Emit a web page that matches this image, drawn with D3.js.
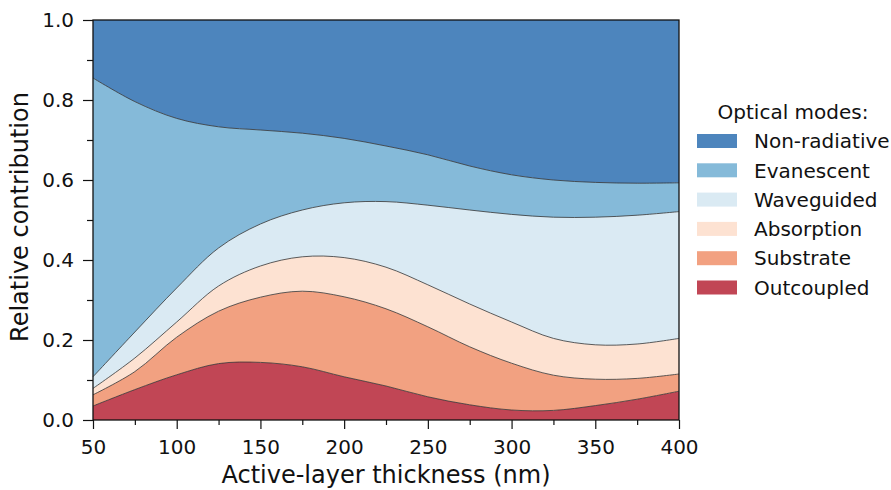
<!DOCTYPE html>
<html>
<head>
<meta charset="utf-8">
<script src="https://cdn.jsdelivr.net/npm/d3@7"></script>
<style>
  body { margin: 0; background: #fff; }
  svg text { font-family: "DejaVu Sans", Verdana, sans-serif; fill: #111; }
</style>
</head>
<body>
<div id="chart"></div>
<script>
// thickness in nm
const thickness = [50, 75, 100, 125, 150, 175, 200, 225, 250, 275, 300, 325, 350, 375, 400];

// contribution of each optical mode (stacked bottom -> top)
const outcoupled   = [0.035, 0.076, 0.113, 0.141, 0.144, 0.133, 0.108, 0.085, 0.058, 0.038, 0.025, 0.024, 0.036, 0.052, 0.072];
const substrate    = [0.028, 0.045, 0.094, 0.131, 0.163, 0.189, 0.200, 0.193, 0.175, 0.145, 0.117, 0.088, 0.066, 0.052, 0.043];
const absorption   = [0.016, 0.034, 0.038, 0.063, 0.078, 0.086, 0.098, 0.104, 0.105, 0.107, 0.103, 0.092, 0.086, 0.086, 0.089];
const waveguided   = [0.029, 0.065, 0.085, 0.095, 0.105, 0.117, 0.137, 0.164, 0.199, 0.235, 0.269, 0.303, 0.319, 0.322, 0.317];
const evanescent   = [0.747, 0.576, 0.424, 0.303, 0.235, 0.192, 0.161, 0.139, 0.126, 0.110, 0.099, 0.093, 0.087, 0.080, 0.072];
const nonRadiative = [0.145, 0.204, 0.246, 0.267, 0.275, 0.283, 0.296, 0.315, 0.337, 0.365, 0.387, 0.400, 0.406, 0.408, 0.407];

const modes = ["Outcoupled", "Substrate", "Absorption", "Waveguided", "Evanescent", "Non-radiative"];
const modeColors = ["#b2182b", "#ef8a62", "#fddbc7", "#d1e5f0", "#67a9cf", "#2166ac"];
const xTicks = [50, 100, 150, 200, 250, 300, 350, 400];
const yTicks = [0, 0.2, 0.4, 0.6, 0.8, 1.0];

const series = [outcoupled, substrate, absorption, waveguided, evanescent, nonRadiative];

// build rows for d3.stack
const rows = thickness.map((t, i) => {
    const r = { t };
    modes.forEach((m, k) => r[m] = series[k][i]);
    return r;
});

const W = 891, H = 490;
const margin = { top: 20, right: 212, bottom: 70, left: 93 };
const width = W - margin.left - margin.right;
const height = H - margin.top - margin.bottom;

const svg = d3.select("#chart").append("svg")
    .attr("width", W)
    .attr("height", H);

const g = svg.append("g")
    .attr("transform", `translate(${margin.left},${margin.top})`);

const x = d3.scaleLinear().domain([50, 400]).range([0, width]);
const y = d3.scaleLinear().domain([0, 1]).range([height, 0]);

const stacked = d3.stack().keys(modes)(rows);

const area = d3.area()
    .x(d => x(d.data.t))
    .y0(d => y(d[0]))
    .y1(d => y(d[1]))
    .curve(d3.curveCatmullRom);

const topLine = d3.line()
    .x(d => x(d.data.t))
    .y(d => y(d[1]))
    .curve(d3.curveCatmullRom);

g.selectAll("path.layer")
    .data(stacked)
    .join("path")
    .attr("class", "layer")
    .attr("d", area)
    .attr("fill", (d, i) => modeColors[i])
    .attr("fill-opacity", 0.8);

// thin edges between layers
g.selectAll("path.edge")
    .data(stacked.slice(0, stacked.length - 1))
    .join("path")
    .attr("class", "edge")
    .attr("d", topLine)
    .attr("fill", "none")
    .attr("stroke", "#333")
    .attr("stroke-width", 0.8);

// axes
g.append("g")
    .attr("transform", `translate(0,${height})`)
    .call(d3.axisBottom(x).tickValues(xTicks).tickSize(9).tickPadding(11).tickFormat(d3.format("d")));
g.append("g")
    .attr("transform", `translate(0,${height})`)
    .call(d3.axisBottom(x).tickValues(d3.range(75, 400, 50)).tickSize(5).tickFormat(""));

g.append("g")
    .call(d3.axisLeft(y).tickValues(yTicks).tickSize(10).tickPadding(9).tickFormat(d3.format(".1f")));
g.append("g")
    .call(d3.axisLeft(y).tickValues([0.1, 0.3, 0.5, 0.7, 0.9]).tickSize(6).tickFormat(""));

g.selectAll(".tick text").style("font-size", "20px").attr("fill", "#111");
g.selectAll(".tick line").attr("stroke", "#111").attr("stroke-width", 1.2);
g.selectAll(".domain").remove();

// frame
g.append("rect")
    .attr("width", width)
    .attr("height", height)
    .attr("fill", "none")
    .attr("stroke", "#111")
    .attr("stroke-width", 1.3);

// axis titles
svg.append("text")
    .attr("x", margin.left + width / 2)
    .attr("y", 483)
    .attr("text-anchor", "middle")
    .style("font-size", "24px")
    .text("Active-layer thickness (nm)");

svg.append("text")
    .attr("transform", "translate(28,217) rotate(-90)")
    .attr("text-anchor", "middle")
    .style("font-size", "24px")
    .text("Relative contribution");

// legend, top entry first
const legend = svg.append("g").attr("transform", "translate(697,0)");
legend.append("text")
    .attr("x", 96)
    .attr("y", 119)
    .attr("text-anchor", "middle")
    .style("font-size", "20px")
    .text("Optical modes:");

const legendOrder = modes.slice().reverse();
const legendColors = modeColors.slice().reverse();
legendOrder.forEach((m, i) => {
    const cy = 141 + i * 29.3;
    legend.append("rect")
        .attr("x", 0)
        .attr("y", cy - 7)
        .attr("width", 40)
        .attr("height", 14)
        .attr("fill", legendColors[i])
        .attr("fill-opacity", 0.8);
    legend.append("text")
        .attr("x", 57)
        .attr("y", cy)
        .attr("dy", "0.36em")
        .style("font-size", "20px")
        .text(m);
});
</script>
</body>
</html>
